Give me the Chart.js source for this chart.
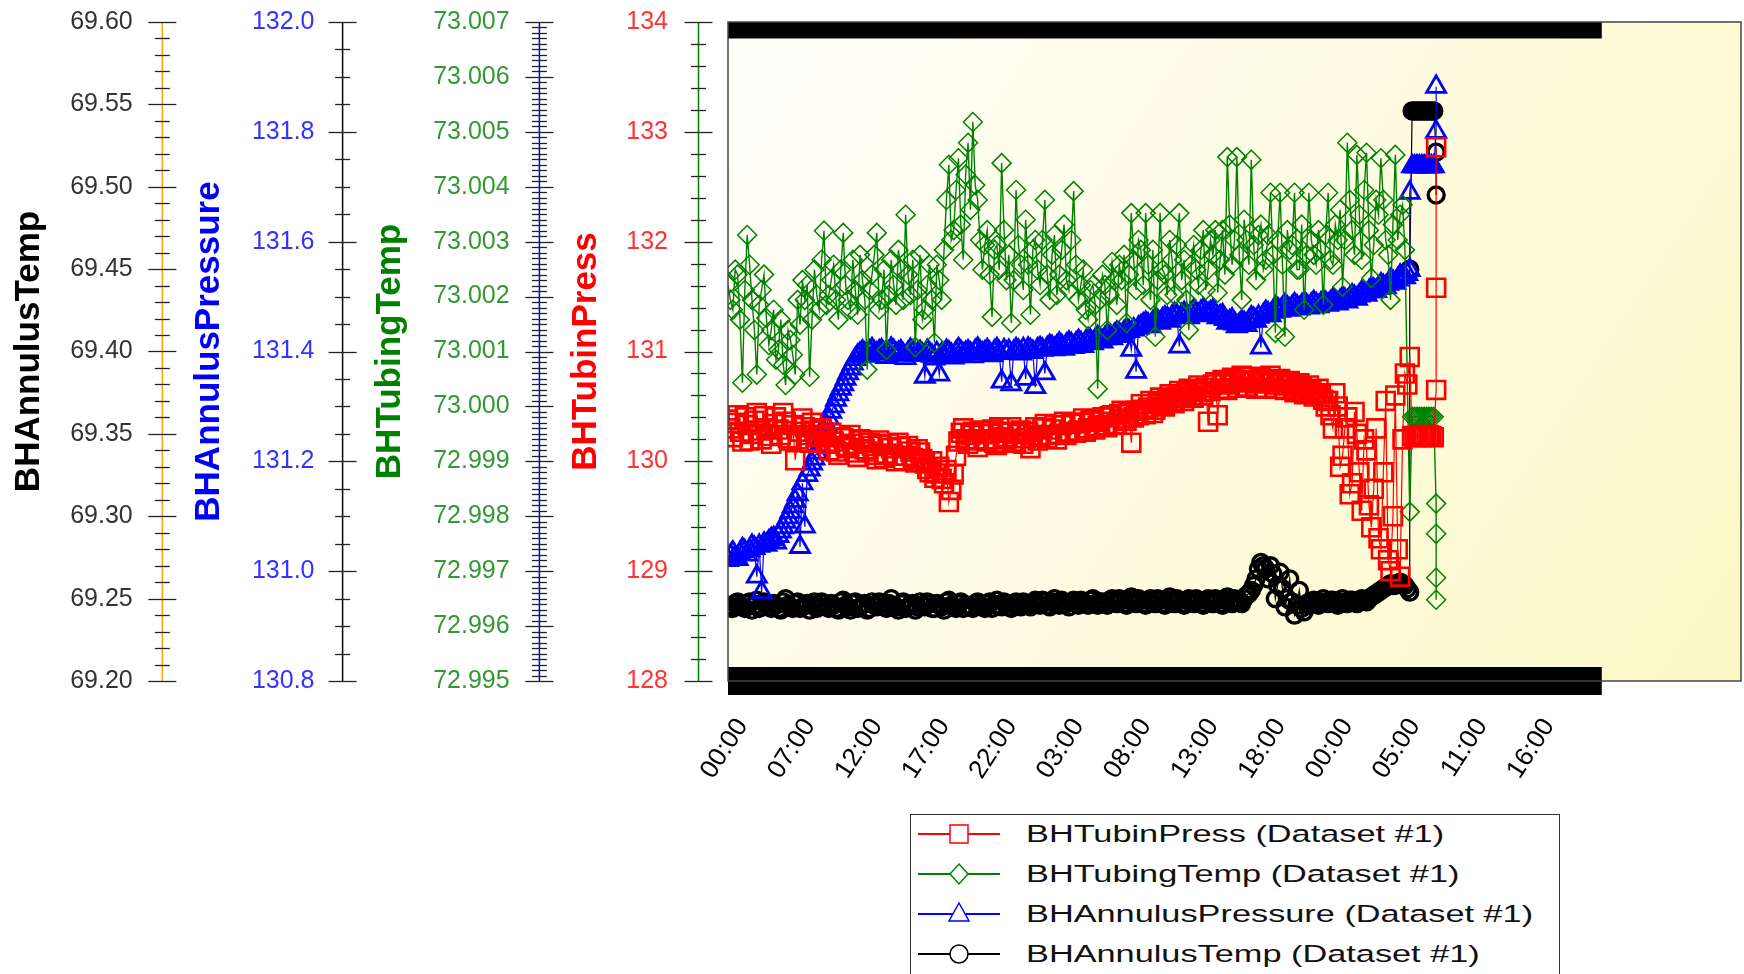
<!DOCTYPE html>
<html>
<head>
<meta charset="utf-8">
<script src="https://cdn.jsdelivr.net/npm/chart.js@4.4.1/dist/chart.umd.min.js"></script>
<style>
html,body{margin:0;padding:0;background:#fff;width:1744px;height:974px;overflow:hidden;}
#wrap{position:relative;width:1744px;height:974px;}
canvas{display:block;}
#legend{position:absolute;left:909.5px;top:813.5px;width:650px;height:190px;border:1.5px solid #333;background:#fff;box-sizing:border-box;}
.lrow{position:absolute;left:0;height:40px;width:100%;}
.lrow svg{position:absolute;left:7px;top:5px;}
.ltxt{position:absolute;left:115px;top:0;line-height:40px;font-size:24.5px;font-family:'Liberation Sans',Arial,sans-serif;color:#111;transform:scaleX(1.40);transform-origin:0 50%;white-space:nowrap;}
</style>
</head>
<body>
<div id="wrap">
<canvas id="c" width="1744" height="974"></canvas>
<div id="legend"></div>
</div>
<script>
// ---- x axis (sample index) and its labels ----
const xTickLabels = ['00:00','07:00','12:00','17:00','22:00','03:00','08:00','13:00','18:00','00:00','05:00','11:00','16:00'];
const xTickPositions = [3,17,31,45,59,73,87,101,115,129,143,157,171];
const xRange = [0, 211];
const bandRange = [0, 182];

// ---- y axis ticks ----
const annTempTicks = [69.20,69.25,69.30,69.35,69.40,69.45,69.50,69.55,69.60];
const annPressTicks = [130.8,131.0,131.2,131.4,131.6,131.8,132.0];
const tubTempTicks = [72.995,72.996,72.997,72.998,72.999,73.000,73.001,73.002,73.003,73.004,73.005,73.006,73.007];
const tubPressTicks = [128,129,130,131,132,133,134];

// ---- series values: samples at x = 0,1,2,... and half samples at x = 0.5,1.5,... ----
const tubPress = [
130.38,130.22,130.42,130.18,130.33,130.25,130.44,130.20,130.30,130.16,
130.40,130.24,130.36,130.19,130.01,130.27,130.31,130.17,130.28,130.22,
130.24,130.10,130.18,130.06,130.21,130.12,130.16,130.04,130.19,130.09,
130.14,130.02,130.15,130.07,130.12,130.00,130.13,130.05,130.09,129.99,
130.08,129.98,129.90,129.85,129.95,129.80,129.63,129.88,130.18,130.30,
130.16,130.27,130.13,130.25,130.18,130.29,130.15,130.27,130.20,130.31,
130.17,130.28,130.21,130.12,130.31,130.22,130.34,130.24,130.33,130.25,
130.36,130.27,130.35,130.28,130.39,130.30,130.38,130.32,130.40,130.31,
130.42,130.34,130.46,130.37,130.17,130.46,130.52,130.43,130.55,130.47,
130.58,130.50,130.61,130.53,130.64,130.55,130.66,130.58,130.69,130.60,
130.36,130.70,130.42,130.74,130.65,130.76,130.67,130.78,130.68,130.77,
130.66,130.76,130.67,130.78,130.66,130.75,130.65,130.73,130.63,130.71,
130.61,130.69,130.59,130.66,130.56,130.55,130.30,130.50,130.05,130.40,
129.80,130.25,129.55,130.10,129.40,130.30,129.20,130.55,129.00,130.60,
128.95,130.80,130.95];
const tubPressHalf = [
130.30,130.35,130.27,130.40,130.19,130.37,130.28,130.41,130.23,130.34,
130.29,130.44,130.21,130.33,130.20,130.39,130.24,130.35,130.18,130.30,
130.16,130.26,130.09,130.22,130.14,130.24,130.08,130.20,130.11,130.17,
130.06,130.19,130.03,130.16,130.05,130.17,130.01,130.14,130.03,130.11,
130.02,129.93,130.00,129.89,129.84,129.92,129.74,130.05,130.26,130.20,
130.24,130.19,130.28,130.20,130.25,130.17,130.31,130.22,130.26,130.18,
130.25,130.16,130.27,130.24,130.19,130.30,130.21,130.29,130.20,130.33,
130.24,130.34,130.26,130.35,130.27,130.37,130.29,130.36,130.33,130.41,
130.33,130.43,130.39,130.45,130.40,130.42,130.47,130.49,130.44,130.53,
130.52,130.56,130.55,130.59,130.58,130.62,130.60,130.65,130.63,130.67,
130.64,130.72,130.66,130.71,130.70,130.73,130.72,130.74,130.72,130.74,
130.71,130.73,130.72,130.74,130.70,130.72,130.69,130.70,130.67,130.68,
130.65,130.64,130.62,130.61,130.50,130.42,130.62,129.95,130.30,129.70,
130.45,129.90,130.20,129.60,129.75,129.30,129.90,129.10,129.50,129.20,
130.20,130.70];
const tubPressTailX = [142.5,143,143.5,144,144.5,145,145.5,146,146.5,147,147.5,147.5,147.5];
const tubPressTailY = [130.23,130.22,130.23,130.24,130.23,130.22,130.23,130.24,130.23,130.22,130.65,131.58,132.86];

const tubTemp = [
73.00221,73.00176,73.00240,73.00043,73.00312,73.00194,73.00058,73.00212,73.00161,73.00139,
73.00085,73.00158,73.00039,73.00121,73.00058,73.00149,73.00194,73.00054,73.00249,73.00176,
73.00320,73.00203,73.00258,73.00158,73.00316,73.00194,73.00267,73.00167,73.00230,73.00067,
73.00240,73.00316,73.00194,73.00103,73.00267,73.00185,73.00249,73.00349,73.00203,73.00108,
73.00276,73.00176,73.00258,73.00116,73.00230,73.00285,73.00440,73.00321,73.00452,73.00267,
73.00480,73.00518,73.00376,73.00249,73.00321,73.00163,73.00294,73.00443,73.00230,73.00152,
73.00394,73.00258,73.00340,73.00167,73.00303,73.00221,73.00376,73.00194,73.00312,73.00240,
73.00331,73.00212,73.00392,73.00194,73.00249,73.00158,73.00221,73.00032,73.00240,73.00139,
73.00263,73.00185,73.00230,73.00152,73.00352,73.00212,73.00285,73.00352,73.00194,73.00127,
73.00352,73.00240,73.00303,73.00203,73.00352,73.00267,73.00139,73.00294,73.00221,73.00321,
73.00249,73.00276,73.00207,73.00321,73.00454,73.00258,73.00454,73.00194,73.00303,73.00449,
73.00230,73.00331,73.00267,73.00389,73.00134,73.00389,73.00127,73.00285,73.00389,73.00249,
73.00176,73.00389,73.00276,73.00321,73.00185,73.00389,73.00258,73.00303,73.00218,73.00480,
73.00321,73.00458,73.00267,73.00462,73.00234,73.00376,73.00452,73.00303,73.00194,73.00458,
73.00349,73.00285];
const tubTempHalf = [
73.00194,73.00249,73.00158,73.00212,73.00258,73.00139,73.00185,73.00240,73.00112,73.00176,
73.00103,73.00076,73.00139,73.00094,73.00194,73.00230,73.00221,73.00158,73.00203,73.00267,
73.00185,73.00230,73.00194,73.00249,73.00221,73.00176,73.00212,73.00276,73.00194,73.00212,
73.00276,73.00176,73.00249,73.00203,73.00221,73.00285,73.00194,73.00240,73.00267,73.00212,
73.00158,73.00221,73.00194,73.00258,73.00194,73.00376,73.00303,73.00394,73.00331,73.00422,
73.00358,73.00403,73.00303,73.00294,73.00240,73.00285,73.00249,73.00321,73.00276,73.00230,
73.00294,73.00212,73.00258,73.00285,73.00249,73.00303,73.00240,73.00276,73.00203,73.00285,
73.00230,73.00303,73.00258,73.00221,73.00176,73.00212,73.00185,73.00194,73.00221,73.00203,
73.00230,73.00258,73.00276,73.00240,73.00267,73.00303,73.00221,73.00258,73.00285,73.00230,
73.00249,73.00203,73.00267,73.00294,73.00230,73.00194,73.00258,73.00249,73.00285,73.00212,
73.00303,73.00321,73.00267,73.00240,73.00331,73.00303,73.00276,73.00340,73.00258,73.00294,
73.00312,73.00249,73.00312,73.00276,73.00303,73.00258,73.00321,73.00294,73.00249,73.00331,
73.00276,73.00303,73.00258,73.00285,73.00312,73.00267,73.00331,73.00358,73.00303,73.00376,
73.00276,73.00349,73.00394,73.00321,73.00294,73.00349,73.00376,73.00276,73.00331,73.00303,
73.00367];
const tubTempTailX = [142,142.5,143,143.5,144,144.5,145,145.5,146,146.5,147,147.5,147.5,147.5,147.5];
const tubTempTailY = [72.99808,72.99981,72.99981,72.99981,72.99981,72.99981,72.99981,72.99981,72.99981,72.99981,72.99981,72.99823,72.99768,72.99688,72.99648];

const annPress = [
131.020,131.034,131.022,131.040,131.030,131.046,130.990,130.962,131.048,131.058,
131.052,131.072,131.090,131.108,131.128,131.044,131.081,131.185,131.205,131.228,
131.255,131.278,131.300,131.322,131.340,131.360,131.378,131.392,131.400,131.392,
131.404,131.396,131.402,131.390,131.405,131.395,131.400,131.388,131.403,131.394,
131.399,131.354,131.396,131.387,131.358,131.392,131.398,131.389,131.404,131.394,
131.400,131.391,131.405,131.396,131.402,131.393,131.404,131.345,131.397,131.340,
131.404,131.396,131.350,131.402,131.335,131.406,131.360,131.410,131.404,131.414,
131.405,131.416,131.408,131.419,131.410,131.422,131.415,131.426,131.418,131.430,
131.424,131.434,131.428,131.440,131.403,131.363,131.446,131.452,131.446,131.458,
131.452,131.462,131.456,131.468,131.409,131.470,131.462,131.474,131.466,131.476,
131.468,131.474,131.462,131.466,131.452,131.458,131.446,131.454,131.448,131.462,
131.456,131.407,131.472,131.466,131.480,131.474,131.484,131.476,131.486,131.478,
131.488,131.480,131.490,131.482,131.492,131.485,131.494,131.487,131.497,131.491,
131.502,131.496,131.508,131.503,131.515,131.510,131.522,131.517,131.530,131.525,
131.538,131.535,131.548];
const annPressHalf = [
131.028,131.026,131.032,131.036,131.038,131.042,131.046,131.050,131.054,131.060,
131.064,131.080,131.098,131.118,131.140,131.160,131.175,131.196,131.216,131.242,
131.266,131.290,131.312,131.332,131.350,131.369,131.386,131.396,131.396,131.400,
131.398,131.400,131.396,131.398,131.401,131.397,131.394,131.397,131.399,131.396,
131.394,131.401,131.392,131.397,131.395,131.401,131.394,131.398,131.399,131.397,
131.396,131.401,131.399,131.398,131.397,131.400,131.398,131.402,131.401,131.399,
131.401,131.404,131.405,131.399,131.404,131.403,131.406,131.408,131.409,131.410,
131.412,131.413,131.414,131.415,131.417,131.419,131.421,131.422,131.424,131.426,
131.430,131.432,131.435,131.437,131.440,131.443,131.449,131.449,131.453,131.455,
131.458,131.460,131.463,131.465,131.466,131.467,131.469,131.470,131.472,131.471,
131.471,131.469,131.464,131.459,131.455,131.451,131.449,131.452,131.455,131.459,
131.463,131.466,131.469,131.472,131.477,131.479,131.480,131.481,131.482,131.483,
131.484,131.485,131.486,131.487,131.488,131.489,131.490,131.492,131.494,131.497,
131.499,131.502,131.505,131.509,131.512,131.516,131.519,131.523,131.527,131.531,
131.536,131.541];
const annPressTailX = [142,142.5,143,143.5,144,144.5,145,145.5,146,146.5,147,147.5,147.5];
const annPressTailY = [131.689,131.737,131.737,131.737,131.737,131.737,131.737,131.737,131.737,131.737,131.737,131.800,131.882];

const annTemp = [
69.246,69.244,69.248,69.245,69.247,69.243,69.249,69.245,69.247,69.244,
69.246,69.243,69.250,69.245,69.247,69.244,69.246,69.243,69.248,69.245,
69.247,69.244,69.246,69.243,69.249,69.245,69.247,69.244,69.246,69.243,
69.248,69.245,69.247,69.244,69.250,69.245,69.247,69.244,69.246,69.243,
69.248,69.245,69.247,69.244,69.246,69.243,69.249,69.245,69.247,69.244,
69.246,69.244,69.248,69.245,69.247,69.244,69.249,69.245,69.247,69.244,
69.248,69.245,69.247,69.245,69.249,69.246,69.248,69.245,69.250,69.246,
69.248,69.245,69.249,69.246,69.248,69.246,69.250,69.246,69.248,69.246,
69.250,69.247,69.249,69.246,69.251,69.247,69.249,69.246,69.250,69.247,
69.249,69.246,69.251,69.247,69.249,69.246,69.250,69.247,69.249,69.246,
69.250,69.247,69.249,69.246,69.251,69.247,69.249,69.247,69.252,69.255,
69.262,69.272,69.268,69.270,69.250,69.266,69.245,69.262,69.240,69.255,
69.242,69.246,69.249,69.246,69.250,69.247,69.249,69.246,69.250,69.247,
69.249,69.247,69.250,69.248,69.251,69.253,69.255,69.257,69.259,69.258,
69.260,69.258,69.254];
const annTempHalf = [
69.245,69.247,69.246,69.244,69.248,69.246,69.244,69.248,69.245,69.247,
69.244,69.248,69.246,69.244,69.248,69.245,69.247,69.246,69.244,69.248,
69.245,69.247,69.244,69.248,69.246,69.243,69.248,69.245,69.247,69.244,
69.246,69.248,69.245,69.247,69.246,69.243,69.248,69.245,69.247,69.245,
69.246,69.248,69.244,69.247,69.245,69.248,69.246,69.244,69.248,69.246,
69.245,69.247,69.246,69.244,69.248,69.246,69.246,69.248,69.245,69.247,
69.246,69.248,69.246,69.247,69.247,69.249,69.246,69.248,69.247,69.249,
69.247,69.248,69.247,69.249,69.247,69.249,69.247,69.248,69.247,69.249,
69.248,69.250,69.247,69.249,69.248,69.250,69.247,69.249,69.248,69.250,
69.247,69.249,69.248,69.250,69.247,69.249,69.248,69.250,69.247,69.249,
69.248,69.250,69.247,69.249,69.248,69.250,69.248,69.250,69.253,69.258,
69.268,69.270,69.262,69.265,69.258,69.256,69.250,69.248,69.246,69.244,
69.247,69.248,69.247,69.248,69.248,69.249,69.247,69.248,69.248,69.249,
69.248,69.249,69.249,69.250,69.252,69.254,69.256,69.258,69.258,69.259,
69.259,69.256];
const annTempTailX = [142,142.5,143,143.5,144,144.5,145,145.5,146,146.5,147,147.5,147.5];
const annTempTailY = [69.450,69.546,69.546,69.546,69.546,69.546,69.546,69.546,69.546,69.546,69.546,69.521,69.495];

function pts(main, half, tx, ty){
  const out = [];
  main.forEach((v,i)=>{
    out.push({x:i, y:v});
    if (i < half.length) out.push({x:i+0.5, y:half[i]});
  });
  tx.forEach((x,k)=>out.push({x:x, y:ty[k]}));
  return out;
}

const FONT = "'Liberation Sans', Arial, sans-serif";

const axisDecor = {
  yA:{line:'#ffa500', tick:'#222', minor:0.01, per:5},
  yB:{line:'#000000', tick:'#222', minor:0.05, per:4},
  yC:{line:'#0000ff', tick:'#222', minor:0.0001, per:10},
  yD:{line:'#008000', tick:'#222', minor:0.2, per:5}
};

const decor = {
  id:'decor',
  beforeDatasetsDraw(chart){
    const {ctx, chartArea:a} = chart;
    const g = ctx.createLinearGradient(a.left, a.top, a.right, a.bottom);
    g.addColorStop(0,'#fffffa');
    g.addColorStop(1,'#fcf8c6');
    ctx.save();
    ctx.fillStyle = g;
    ctx.fillRect(a.left, a.top, a.right-a.left, a.bottom-a.top);
    ctx.restore();
  },
  afterDatasetsDraw(chart){
    const {ctx, chartArea:a, scales} = chart;
    const xs = scales.x;
    const b1 = xs.getPixelForValue(bandRange[0]);
    const b2 = xs.getPixelForValue(bandRange[1]);
    ctx.save();
    ctx.fillStyle = '#000';
    ctx.fillRect(b1, a.top, b2-b1, 16.5);
    ctx.fillRect(b1, a.bottom-14, b2-b1, 28);
    ctx.strokeStyle = '#444';
    ctx.lineWidth = 1.5;
    ctx.strokeRect(a.left, a.top, a.right-a.left, a.bottom-a.top);
    for (const id of Object.keys(axisDecor)){
      const d = axisDecor[id];
      const s = scales[id];
      const x0 = s.right - 29.5;
      ctx.strokeStyle = d.line;
      ctx.lineWidth = 1.5;
      ctx.beginPath(); ctx.moveTo(x0, s.top); ctx.lineTo(x0, s.bottom); ctx.stroke();
      const n = Math.round((s.max - s.min)/d.minor);
      ctx.strokeStyle = d.tick;
      ctx.lineWidth = 1.3;
      for (let k=0;k<=n;k++){
        const y = Math.round(s.getPixelForValue(s.min + k*d.minor)) + 0.5;
        const L = (k % d.per === 0) ? 14 : 7.5;
        ctx.beginPath(); ctx.moveTo(x0-L, y); ctx.lineTo(x0+L, y); ctx.stroke();
      }
    }
    ctx.restore();
  }
};

function markerSVG(style, color){
  const cx = 41, cy = 15;
  const st = `fill="#fff" stroke="${color}" stroke-width="1.5"`;
  let shape = '';
  if (style === 'rect') shape = `<rect x="${cx-9}" y="${cy-9}" width="18" height="18" ${st}/>`;
  else if (style === 'rectRot') shape = `<polygon points="${cx},${cy-10} ${cx+9},${cy} ${cx},${cy+10} ${cx-9},${cy}" ${st}/>`;
  else if (style === 'triangle') shape = `<polygon points="${cx},${cy-11} ${cx+10},${cy+7} ${cx-10},${cy+7}" ${st}/>`;
  else shape = `<circle cx="${cx}" cy="${cy}" r="9" ${st}/>`;
  return `<svg width="82" height="30" viewBox="0 0 82 30"><line x1="0" y1="15" x2="82" y2="15" stroke="${color}" stroke-width="2"/>${shape}</svg>`;
}

const htmlLegend = {
  id:'htmlLegend',
  afterUpdate(chart){
    const box = document.getElementById('legend');
    box.innerHTML = '';
    chart.data.datasets.forEach((ds,i)=>{
      const row = document.createElement('div');
      row.className = 'lrow';
      row.style.top = (19.7 + 39.9*i - 20) + 'px';
      row.innerHTML = markerSVG(ds.pointStyle, ds.borderColor) + '<span class="ltxt">' + ds.label + '</span>';
      box.appendChild(row);
    });
  }
};

function noPad(s){ s.paddingTop = 0; s.paddingBottom = 0; s.paddingLeft = 0; s.paddingRight = 0; }

function yAxis(weight, min, max, tickVals, width, pad, color, digits, title, titleColor, titlePad){
  return {
    type:'linear', position:'left', weight:weight, min:min, max:max,
    afterBuildTicks: s => { s.ticks = tickVals.map(v=>({value:v})); },
    afterFit: s => { s.width = width; noPad(s); },
    grid:{display:false, drawTicks:false, drawOnChartArea:false},
    border:{display:false},
    ticks:{padding:pad, color:color, font:{family:FONT, size:25}, callback: v => Number(v).toFixed(digits)},
    title:{display:true, text:title, color:titleColor, font:{family:FONT, size:35, weight:'bold', lineHeight:1}, padding:{top:titlePad, bottom:0}}
  };
}

const common = {fill:false, tension:0, pointBackgroundColor:'rgba(0,0,0,0)'};

new Chart(document.getElementById('c'), {
  type:'line',
  data:{
    datasets:[
      Object.assign({label:'BHTubinPress (Dataset #1)', data:pts(tubPress, tubPressHalf, tubPressTailX, tubPressTailY), yAxisID:'yD',
        borderColor:'#ff0000', pointBorderColor:'#ff0000', pointStyle:'rect', pointRadius:12.7, pointBorderWidth:2.6, borderWidth:1.2}, common),
      Object.assign({label:'BHTubingTemp (Dataset #1)', data:pts(tubTemp, tubTempHalf, tubTempTailX, tubTempTailY), yAxisID:'yC',
        borderColor:'#008000', pointBorderColor:'#008000', pointStyle:'rectRot', pointRadius:9.5, pointBorderWidth:1.5, borderWidth:1.4}, common),
      Object.assign({label:'BHAnnulusPressure (Dataset #1)', data:pts(annPress, annPressHalf, annPressTailX, annPressTailY), yAxisID:'yB',
        borderColor:'#0000ff', pointBorderColor:'#0000ff', pointStyle:'triangle', pointRadius:11, pointBorderWidth:2.8, borderWidth:1.2}, common),
      Object.assign({label:'BHAnnulusTemp (Dataset #1)', data:pts(annTemp, annTempHalf, annTempTailX, annTempTailY), yAxisID:'yA',
        borderColor:'#000000', pointBorderColor:'#000000', pointStyle:'circle', pointRadius:8, pointBorderWidth:3.4, borderWidth:1.2}, common)
    ]
  },
  options:{
    responsive:false, animation:false, devicePixelRatio:1, events:[],
    layout:{autoPadding:false, padding:{top:22, right:3, left:0, bottom:0}},
    plugins:{legend:{display:false}, tooltip:{enabled:false}},
    scales:{
      x:{type:'linear', position:'bottom', min:xRange[0], max:xRange[1],
        afterBuildTicks: s => { s.ticks = xTickPositions.map(v=>({value:v})); },
        afterFit: s => { s.height = 293; noPad(s); },
        grid:{display:false, drawTicks:false}, border:{display:false},
        ticks:{autoSkip:false, minRotation:57, maxRotation:57, padding:32, color:'#000',
          font:{family:FONT, size:26}, callback:(v,i)=>xTickLabels[i]}},
      yA: yAxis(3, 69.2, 69.6, annTempTicks, 191.8, 59.1, '#333333', 2, 'BHAnnulusTemp', '#000000', 12.2),
      yB: yAxis(2, 130.8, 132.0, annPressTicks, 180.3, 57.6, '#3333ff', 1, 'BHAnnulusPressure', '#0000ff', 0.3),
      yC: yAxis(1, 72.995, 73.007, tubTempTicks, 196.8, 59.3, '#339933', 3, 'BHTubingTemp', '#008000', 1.1),
      yD: yAxis(0, 128, 134, tubPressTicks, 159.1, 60, '#ff3333', 0, 'BHTubinPress', '#ff0000', 0.1)
    }
  },
  plugins:[decor, htmlLegend]
});
</script>
</body>
</html>
